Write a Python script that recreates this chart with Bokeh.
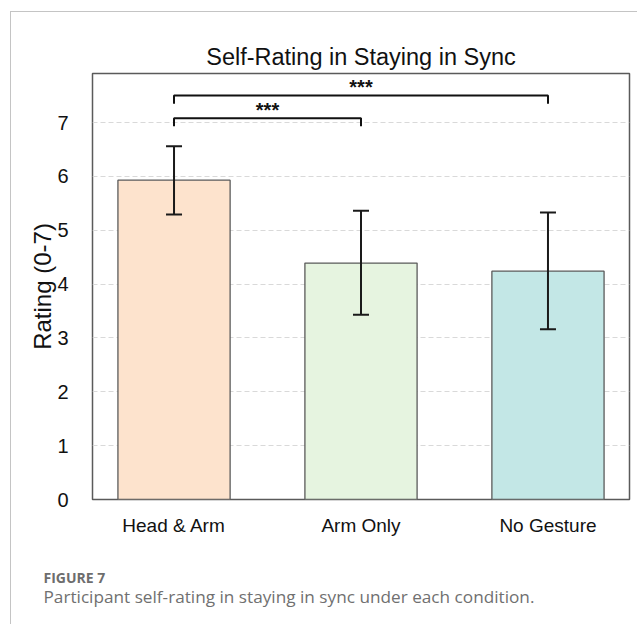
from bokeh.plotting import figure
from bokeh.layouts import column
from bokeh.models import ColumnDataSource, Range1d, FixedTicker, Whisker, TeeHead
from bokeh.embed import file_html
from bokeh.resources import INLINE
from bokeh.core.properties import value

# ---- data ----
categories = ["Head & Arm", "Arm Only", "No Gesture"]
means = [5.93, 4.39, 4.24]
err_lower = [5.29, 3.43, 3.16]
err_upper = [6.56, 5.36, 5.33]
bar_colors = ["#FDE3CD", "#E6F4E0", "#C3E7E6"]
y_ticks = [0, 1, 2, 3, 4, 5, 6, 7]
sig_pairs = [(0, 1), (0, 2)]
sig_heights = [7.08, 7.50]
sig_labels = ["***", "***"]
caption_head = "FIGURE 7"
caption_text = "Participant self-rating in staying in sync under each condition."

FONT = "Liberation Sans"
BORDER = "1px solid #c4c4c4"
xs = list(range(len(categories)))

src = ColumnDataSource(dict(x=xs, top=means, lower=err_lower, upper=err_upper,
                            color=bar_colors, name=categories))

p = figure(width=627, height=535, output_backend="svg", toolbar_location=None,
           x_range=Range1d(-0.436, 2.436), y_range=Range1d(0, 7.91),
           min_border_left=81, min_border_right=9, min_border_top=61, min_border_bottom=48,
           margin=(11, 0, 0, 10),
           styles={"border-top": BORDER, "border-left": BORDER})

p.title.text = "Self-Rating in Staying in Sync"
p.title.align = "center"
p.title.text_font = FONT
p.title.text_font_size = "23.5px"
p.title.text_font_style = "normal"
p.title.text_color = "#111111"
p.title.standoff = 8

p.outline_line_color = "#5a5a5a"
p.outline_line_width = 1.5
p.background_fill_color = "white"
p.border_fill_color = "white"

# grid
p.xgrid.visible = False
p.ygrid.ticker = FixedTicker(ticks=y_ticks[1:])
p.ygrid.grid_line_color = "#d9d9d9"
p.ygrid.grid_line_dash = "5 3"
p.ygrid.grid_line_width = 1.2

# bars
p.vbar(x="x", top="top", width=0.6, bottom=0, source=src, fill_color="color",
       line_color="#5a5a5a", line_width=1.3)

# error bars
w = Whisker(base="x", lower="lower", upper="upper", source=src,
            line_color="#1a1a1a", line_width=2, level="overlay",
            upper_head=TeeHead(size=16, line_width=2, line_color="#1a1a1a"),
            lower_head=TeeHead(size=16, line_width=2, line_color="#1a1a1a"))
p.add_layout(w)

# significance brackets
bx, by, tx, ty = [], [], [], []
for (a, b), h in zip(sig_pairs, sig_heights):
    bx.append([a, a, b, b])
    by.append([h - 0.15, h, h, h - 0.15])
    tx.append((a + b) / 2)
    ty.append(h + 0.155)
p.multi_line(xs=bx, ys=by, line_color="#111111", line_width=2)
p.text(x=tx, y=ty, text=sig_labels, text_align="center", text_baseline="alphabetic",
       text_font=value(FONT), text_font_size="20px", text_font_style="bold",
       text_color="#111111")

# axes
p.yaxis.ticker = FixedTicker(ticks=y_ticks)
p.yaxis.axis_label = "Rating (0-7)"
p.yaxis.axis_label_text_font = FONT
p.yaxis.axis_label_text_font_size = "24px"
p.yaxis.axis_label_text_font_style = "normal"
p.yaxis.axis_label_text_color = "#111111"
p.yaxis.axis_label_standoff = -2
p.yaxis.major_label_standoff = 18

p.xaxis.ticker = FixedTicker(ticks=xs)
p.xaxis.major_label_overrides = {i: c for i, c in zip(xs, categories)}
p.xaxis.major_label_standoff = 9

for ax in (p.xaxis, p.yaxis):
    ax.axis_line_color = None
    ax.major_tick_line_color = None
    ax.minor_tick_line_color = None
    ax.major_label_text_font = FONT
    ax.major_label_text_font_size = "20px"
    ax.major_label_text_color = "#111111"
p.xaxis.major_label_text_font_size = "19px"

# caption panel (pixel-space figure)
CW, CH = 627, 78
c = figure(width=CW, height=CH, output_backend="svg", toolbar_location=None,
           x_range=Range1d(0, CW), y_range=Range1d(0, CH),
           min_border=0, margin=(0, 0, 0, 10), styles={"border-left": BORDER})
c.axis.visible = False
c.grid.visible = False
c.outline_line_color = None
c.background_fill_color = "white"
c.border_fill_color = "white"
c.text(x=[32], y=[CH - 31], text=[caption_head], text_align="left", text_baseline="middle",
       text_font=value("Open Sans"), text_font_size="14px", text_font_style="bold",
       text_color="#6d6d6d")
c.text(x=[32], y=[CH - 50], text=[caption_text], text_align="left", text_baseline="middle",
       text_font=value("Open Sans"), text_font_size="17.2px", text_font_style="normal",
       text_color="#707070")

for fig in (p, c):
    if "frame_align" in fig.properties():
        fig.frame_align = False

layout = column(p, c, spacing=0)
open("out.html", "w").write(file_html(layout, INLINE))
